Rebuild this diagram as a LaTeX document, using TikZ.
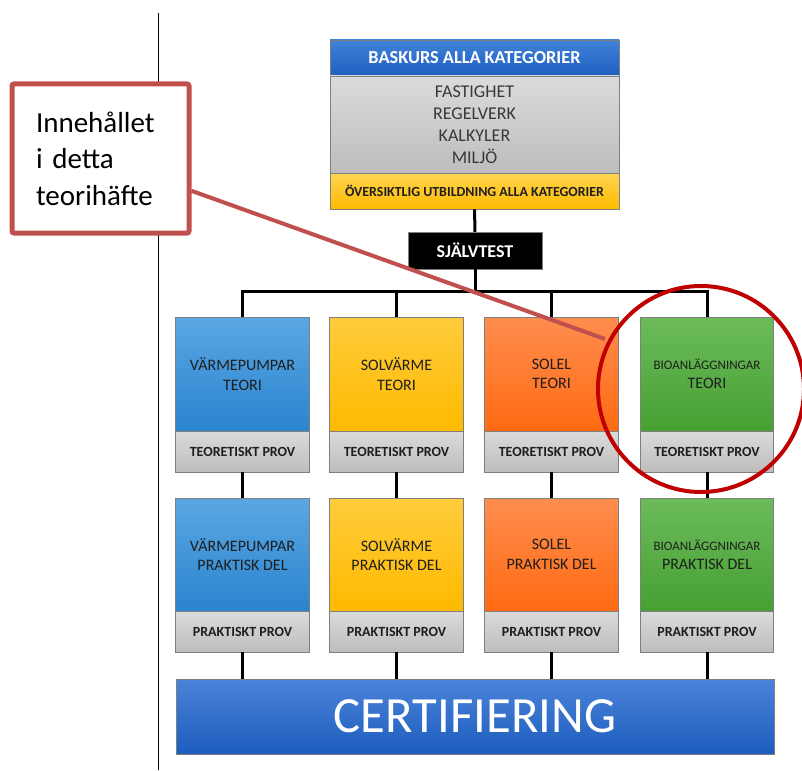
\documentclass[tikz,border=0pt]{standalone}
\usepackage{fontspec}
\setmainfont{Carlito}
\definecolor{boxBorder}{HTML}{7F7F7F}
\definecolor{textDark}{HTML}{1E1E1E}
\definecolor{textGray}{HTML}{383838}
\definecolor{headTop}{HTML}{4182D9}
\definecolor{headBot}{HTML}{1E5EC0}
\definecolor{footTop}{HTML}{FFD54F}
\definecolor{footBot}{HTML}{FFBA00}
\definecolor{grayTop}{HTML}{DBDBDB}
\definecolor{grayBot}{HTML}{BDBDBD}
\definecolor{vpTop}{HTML}{5BA7E3}
\definecolor{vpBot}{HTML}{2A84CE}
\definecolor{svTop}{HTML}{FFCC3C}
\definecolor{svBot}{HTML}{FFBA00}
\definecolor{seTop}{HTML}{FF8D4F}
\definecolor{seBot}{HTML}{FF6A12}
\definecolor{bioTop}{HTML}{6CBB5C}
\definecolor{bioBot}{HTML}{46A031}
\definecolor{certTop}{HTML}{4B83D9}
\definecolor{certBot}{HTML}{1D5DBE}
\definecolor{calloutRed}{HTML}{C0504D}
\definecolor{circleRed}{HTML}{C00000}
\newcommand{\bioName}{{\fontsize{13}{16}\selectfont BIOANLÄGGNINGAR}}
\begin{document}
\begin{tikzpicture}[x=1pt, y=-1pt,
    boxStyle/.style={rectangle, draw=boxBorder, line width=0.8pt, inner sep=0pt, minimum width=133.5pt, align=center, text=textDark, font=\fontsize{16}{19.3}\selectfont},
    teoriStyle/.style={boxStyle, minimum height=114pt},
    prakStyle/.style={boxStyle, minimum height=113pt},
    provStyle/.style={boxStyle, minimum height=41pt, top color=grayTop, bottom color=grayBot, font=\bfseries\fontsize{14}{17}\selectfont},
    baseStyle/.style={rectangle, draw=boxBorder, line width=0.8pt, inner sep=0pt, minimum width=289pt, align=center},
    connStyle/.style={line width=3pt, black},
    calloutStyle/.style={rectangle, draw=calloutRed, line width=5pt, rounded corners=2pt, fill=white, minimum width=177pt, minimum height=149pt, inner sep=0pt, text width=129pt, align=left, text=black, font=\fontsize{29}{36.5}\selectfont}]
    \useasboundingbox (0,0) rectangle (802,770);
    \coordinate (rule_top) at (158, 13);
    \coordinate (rule_bot) at (158, 770);
    \draw[line width=1pt, black] (rule_top) -- (rule_bot);

    \node[baseStyle, minimum height=36pt, top color=headTop, bottom color=headBot, text=white, font=\bfseries\fontsize{18.3}{21}\selectfont] (base_head) at (474.5,  58)   {BASKURS ALLA KATEGORIER};
    \node[baseStyle, minimum height=97pt, top color=grayTop, bottom color=grayBot, text=textGray, font=\fontsize{18}{22}\selectfont] (base_body) at (474.5, 124.5) {FASTIGHET\\REGELVERK\\KALKYLER\\MILJÖ};
    \node[baseStyle, minimum height=36pt, top color=footTop, bottom color=footBot, text=textDark, font=\bfseries\fontsize{13.9}{16}\selectfont] (base_foot) at (474.5, 191)   {ÖVERSIKTLIG UTBILDNING ALLA KATEGORIER};
    \node[rectangle, draw=boxBorder, fill=black, text=white, minimum width=134pt, minimum height=37pt, font=\bfseries\fontsize{18}{21}\selectfont] (selftest) at (475, 250.5) {SJÄLVTEST};
    \coordinate (bus) at (475, 291);

    \node[teoriStyle, top color=vpTop,  bottom color=vpBot]  (vp_teori)  at (242.5, 374)   {VÄRMEPUMPAR\\TEORI};
    \node[teoriStyle, top color=svTop,  bottom color=svBot]  (sv_teori)  at (396.5, 374)   {SOLVÄRME\\TEORI};
    \node[teoriStyle, top color=seTop,  bottom color=seBot]  (se_teori)  at (551.5, 374)   {SOLEL\\TEORI};
    \node[teoriStyle, top color=bioTop, bottom color=bioBot] (bio_teori) at (707,   374)   {\bioName\\TEORI};
    \node[provStyle] (vp_tprov)  at (242.5, 451.5) {TEORETISKT PROV};
    \node[provStyle] (sv_tprov)  at (396.5, 451.5) {TEORETISKT PROV};
    \node[provStyle] (se_tprov)  at (551.5, 451.5) {TEORETISKT PROV};
    \node[provStyle] (bio_tprov) at (707,   451.5) {TEORETISKT PROV};

    \node[prakStyle, top color=vpTop,  bottom color=vpBot]  (vp_prak)  at (242.5, 554.5) {VÄRMEPUMPAR\\PRAKTISK DEL};
    \node[prakStyle, top color=svTop,  bottom color=svBot]  (sv_prak)  at (396.5, 554.5) {SOLVÄRME\\PRAKTISK DEL};
    \node[prakStyle, top color=seTop,  bottom color=seBot]  (se_prak)  at (551.5, 554.5) {SOLEL\\PRAKTISK DEL};
    \node[prakStyle, top color=bioTop, bottom color=bioBot] (bio_prak) at (707,   554.5) {\bioName\\PRAKTISK DEL};
    \node[provStyle] (vp_pprov)  at (242.5, 631.5) {PRAKTISKT PROV};
    \node[provStyle] (sv_pprov)  at (396.5, 631.5) {PRAKTISKT PROV};
    \node[provStyle] (se_pprov)  at (551.5, 631.5) {PRAKTISKT PROV};
    \node[provStyle] (bio_pprov) at (707,   631.5) {PRAKTISKT PROV};

    \node[rectangle, draw=boxBorder, line width=0.8pt, minimum width=598pt, minimum height=75pt, top color=certTop, bottom color=certBot, text=white, font=\fontsize{50.7}{60}\selectfont] (cert) at (475, 716.5) {CERTIFIERING};

    \draw[connStyle] (base_foot) -- (selftest);
    \draw[connStyle] (selftest) -- (bus);
    \draw[connStyle] (bus) -| (vp_teori);
    \draw[connStyle] (bus) -| (sv_teori);
    \draw[connStyle] (bus) -| (se_teori);
    \draw[connStyle] (bus) -| (bio_teori);
    \draw[connStyle] (vp_tprov)  -- (vp_prak);
    \draw[connStyle] (sv_tprov)  -- (sv_prak);
    \draw[connStyle] (se_tprov)  -- (se_prak);
    \draw[connStyle] (bio_tprov) -- (bio_prak);
    \draw[connStyle] (vp_pprov.south)  -- (vp_pprov.south  |- cert.north);
    \draw[connStyle] (sv_pprov.south)  -- (sv_pprov.south  |- cert.north);
    \draw[connStyle] (se_pprov.south)  -- (se_pprov.south  |- cert.north);
    \draw[connStyle] (bio_pprov.south) -- (bio_pprov.south |- cert.north);

    \node[calloutStyle] (callout) at (100.5, 158.5) {Innehållet\\i detta\\teorihäfte};
    \coordinate (pointer_end) at (605, 339);
    \draw[line width=4pt, calloutRed] (callout) -- (pointer_end);
    \node[circle, draw=circleRed, line width=4pt, minimum size=206pt, inner sep=0pt] (focus) at (701, 389) {};
\end{tikzpicture}
\end{document}
